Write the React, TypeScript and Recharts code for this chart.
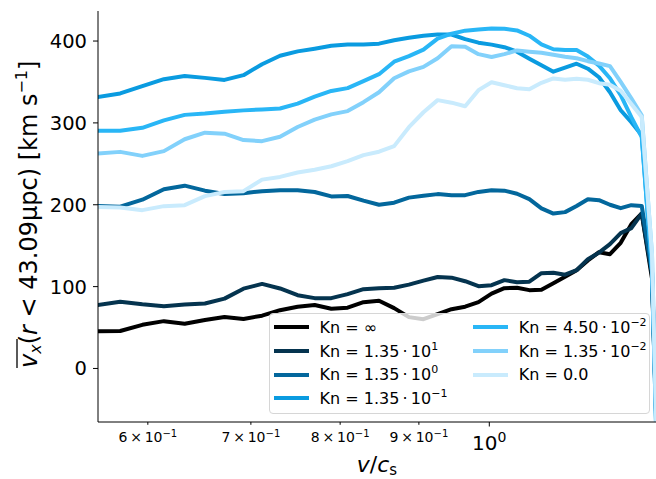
import React from "react";
import { LineChart, Line, XAxis, YAxis } from "recharts";

// v / c_s sample points (bin centres)
const vOverCs = [
  0.5563, 0.5757, 0.5951, 0.6146, 0.634, 0.6535, 0.6729, 0.6923, 0.7118, 0.7312,
  0.7507, 0.7701, 0.7895, 0.809, 0.8284, 0.8479, 0.8673, 0.8867, 0.9062, 0.9256,
  0.9451, 0.9645, 0.9839, 1.0034, 1.0228, 1.0423, 1.0617, 1.0811, 1.1006, 1.12,
  1.1395, 1.1589, 1.1783, 1.1978, 1.2172, 1.2367, 1.2561, 1.2755, 1.295,
];

const knInf = [
  45.5, 45.8, 53.3, 57.8, 54.7, 59.2, 62.9, 60.5, 64.5, 71.2, 75.5, 77.6, 73, 74.3,
  81, 82.8, 73.7, 62.7, 60.2, 66.3, 72.4, 75.5, 81, 91.4, 98.1, 98.7, 95.7, 96.3,
  104.2, 112.1, 120, 132, 142, 139.6, 153.5, 176.3, 189.3, 110, -300,
];
const kn135e1 = [
  77.3, 81.6, 78.5, 76.1, 78, 79.4, 85.3, 97.5, 103.3, 97.7, 89.5, 85.9, 85.9, 90.8,
  96.9, 98.1, 98.7, 102.4, 107.3, 111.8, 110.9, 106.6, 100.5, 101.8, 107.9, 105.4,
  106, 116.4, 117, 114.6, 120, 133.5, 141.5, 151.8, 165.3, 171.4, 189.3, 115, -300,
];
const kn135e0 = [
  198.6, 197.7, 206.2, 219, 223.3, 217.2, 213.2, 214.1, 216.6, 217.8, 217.8, 215.6,
  210.2, 210.7, 205, 200, 202.5, 208.7, 211, 213, 211.7, 211.7, 215.7, 217.8, 217.2,
  213.5, 206.8, 195.5, 189.2, 191, 198.4, 206.8, 205.6, 200, 195.8, 199.5, 198.6,
  120, -300,
];
const kn135em1 = [
  331.5, 336, 345, 353.4, 357.3, 355, 352.5, 358.3, 371.7, 382, 387.4, 390.7, 394.3,
  395.8, 395.8, 396.8, 401, 404, 406.5, 408, 408, 402.3, 398, 395.6, 392.5, 387,
  378.5, 370.5, 362.6, 367.5, 372.3, 366.2, 355.8, 337.5, 315.5, 300.9, 285, 120,
  -350,
];
const kn450em2 = [
  290.3, 290.3, 294, 303, 309.8, 311.4, 313.5, 315.3, 316.4, 317.6, 323.5, 332, 339,
  342.5, 351, 359.5, 374.8, 381.6, 389.5, 403, 409, 412.7, 414, 415.2, 415, 413,
  406.5, 396, 390, 389, 389, 381, 370, 354.5, 334, 307, 282.6, 120, -350,
];
const kn135em2 = [
  262.4, 264.6, 259.7, 265.5, 280, 288, 286.8, 279, 277.7, 283, 295, 304, 310.4,
  314.4, 325.3, 337.5, 354.5, 363, 368.4, 379, 393.7, 393, 384, 380.6, 384, 388.5,
  387, 385.7, 383.3, 380.9, 379, 375.4, 372.6, 369.3, 350, 330, 309.4, 140, -350,
];
const kn00 = [
  197.4, 196.6, 193.4, 198.3, 199.5, 210.5, 215.6, 216.6, 230.7, 234, 239.4, 242.8,
  247, 253.2, 260.6, 264.8, 271.6, 294.8, 313, 327.8, 324.7, 320.4, 340, 349.7, 346,
  342.4, 341, 349, 354.3, 352.7, 354, 352.7, 348.5, 346.7, 339.4, 323, 307.3, 140,
  -350,
];

const seriesKeys = ["inf", "e1", "e0", "em1", "em2a", "em2b", "zero"];
const seriesValues = [knInf, kn135e1, kn135e0, kn135em1, kn450em2, kn135em2, kn00];
const seriesColors = [
  "#000000",
  "#05344f",
  "#03679c",
  "#0a9be0",
  "#29b6f6",
  "#82d1fb",
  "#c9ebfd",
];
const knMantissa = ["∞", "1.35", "1.35", "1.35", "4.50", "1.35", "0.0"];
const knExponent = ["", "1", "0", "−1", "−2", "−2", ""];

const xTicks = [0.6, 0.7, 0.8, 0.9, 1.0];
const yTicks = [0, 100, 200, 300, 400];

const data = vOverCs.map((x, i) => {
  const row: Record<string, number> = { x };
  seriesKeys.forEach((k, j) => {
    row[k] = seriesValues[j][i];
  });
  return row;
});

function XTick(props: any) {
  const { x, y, payload } = props;
  const v = payload.value as number;
  const major = Math.abs(v - 1) < 1e-6;
  return (
    <g>
      <line x1={x} x2={x} y1={y} y2={y + (major ? 4.5 : 2.8)} stroke="#000" strokeWidth={1} />
      {major ? (
        <text x={x} y={y + 28} textAnchor="middle" fontSize={20} fill="#000">
          10
          <tspan dy={-8} fontSize={14}>
            0
          </tspan>
        </text>
      ) : (
        <text x={x} y={y + 20} textAnchor="middle" fontSize={14} fill="#000">
          {Math.round(v * 10)}
          {"\u2009×\u200910"}
          <tspan dy={-5} fontSize={10}>
            −1
          </tspan>
        </text>
      )}
    </g>
  );
}

function YLabel() {
  // baseline at page x=37, text starts (bottom) near y=367
  return (
    <g transform="translate(37,368) rotate(-90)">
      <line x1={0} x2={29} y1={-20} y2={-20} stroke="#000" strokeWidth={1.3} />
      <text x={0} y={0} fontSize={24} fill="#000">
        <tspan fontStyle="italic">v</tspan>
        <tspan fontStyle="italic" fontSize={16} dy={4}>
          x
        </tspan>
        <tspan dy={-4}>(</tspan>
        <tspan fontStyle="italic">r</tspan>
        <tspan>{" < 43.09μpc) [km s"}</tspan>
        <tspan fontSize={16} dy={-10}>
          −1
        </tspan>
        <tspan dy={10}>]</tspan>
      </text>
    </g>
  );
}

function XLabel(props: any) {
  const vb = props.viewBox;
  const cx = vb.x + vb.width / 2;
  return (
    <text x={cx} y={472} textAnchor="middle" fontSize={22} fill="#000">
      <tspan fontStyle="italic">v</tspan>
      <tspan>/</tspan>
      <tspan fontStyle="italic">c</tspan>
      <tspan fontSize={15} dy={3}>
        s
      </tspan>
    </text>
  );
}

function LegendBox() {
  return (
    <div
      style={{
        position: "absolute",
        left: 269,
        top: 313,
        width: 381,
        height: 101,
        boxSizing: "border-box",
        border: "1px solid #d6d6d6",
        borderRadius: 4,
        background: "rgba(255,255,255,0.8)",
        fontSize: 16,
        color: "#000",
      }}
    >
      {knMantissa.map((m, i) => {
        const col = i < 4 ? 0 : 1;
        const row = col === 0 ? i : i - 4;
        return (
          <div
            key={i}
            style={{
              position: "absolute",
              left: col === 0 ? 3.5 : 202.7,
              top: 3.3 + row * 23.7,
              height: 20,
              display: "flex",
              alignItems: "center",
              whiteSpace: "nowrap",
            }}
          >
            <div style={{ width: 35, height: 4, background: seriesColors[i], marginRight: 11 }} />
            <span>
              {"Kn = " + m}
              {knExponent[i] ? (
                <>
                  {"\u2009·\u200910"}
                  <span style={{ fontSize: 11, position: "relative", top: -7 }}>{knExponent[i]}</span>
                </>
              ) : null}
            </span>
          </div>
        );
      })}
    </div>
  );
}

export default function App() {
  return (
    <div
      style={{
        position: "absolute",
        left: 0,
        top: 0,
        width: 656,
        height: 479,
        overflow: "hidden",
        background: "#fff",
        fontFamily: "'DejaVu Sans', sans-serif",
      }}
    >
      <LineChart
        width={656}
        height={479}
        data={data}
        margin={{ top: 11, right: 0, bottom: 0, left: 0 }}
      >
        <XAxis
          dataKey="x"
          type="number"
          scale="log"
          domain={[0.5569, 1.2832]}
          allowDataOverflow
          ticks={xTicks}
          interval={0}
          height={57}
          tickSize={0}
          tickMargin={0}
          tickLine={false}
          tick={<XTick />}
          axisLine={{ stroke: "#000", strokeWidth: 1 }}
          label={<XLabel />}
        />
        <XAxis
          xAxisId="top"
          orientation="top"
          dataKey="x"
          type="number"
          scale="log"
          domain={[0.5569, 1.2832]}
          allowDataOverflow
          height={0}
          tick={false}
          tickLine={false}
          axisLine={{ stroke: "#000", strokeWidth: 1 }}
        />
        <YAxis
          type="number"
          domain={[-65.4, 436.7]}
          allowDataOverflow
          ticks={yTicks}
          width={98}
          tickSize={5}
          tickMargin={6}
          tick={{ fontSize: 19.5, fill: "#000" }}
          tickLine={{ stroke: "#000" }}
          axisLine={{ stroke: "#000", strokeWidth: 1 }}
          label={<YLabel />}
        />
        {seriesKeys.map((k, j) => (
          <Line
            key={k}
            dataKey={k}
            type="linear"
            stroke={seriesColors[j]}
            strokeWidth={4}
            strokeLinejoin="round"
            dot={false}
            activeDot={false}
            isAnimationActive={false}
          />
        ))}
      </LineChart>
      <LegendBox />
    </div>
  );
}
